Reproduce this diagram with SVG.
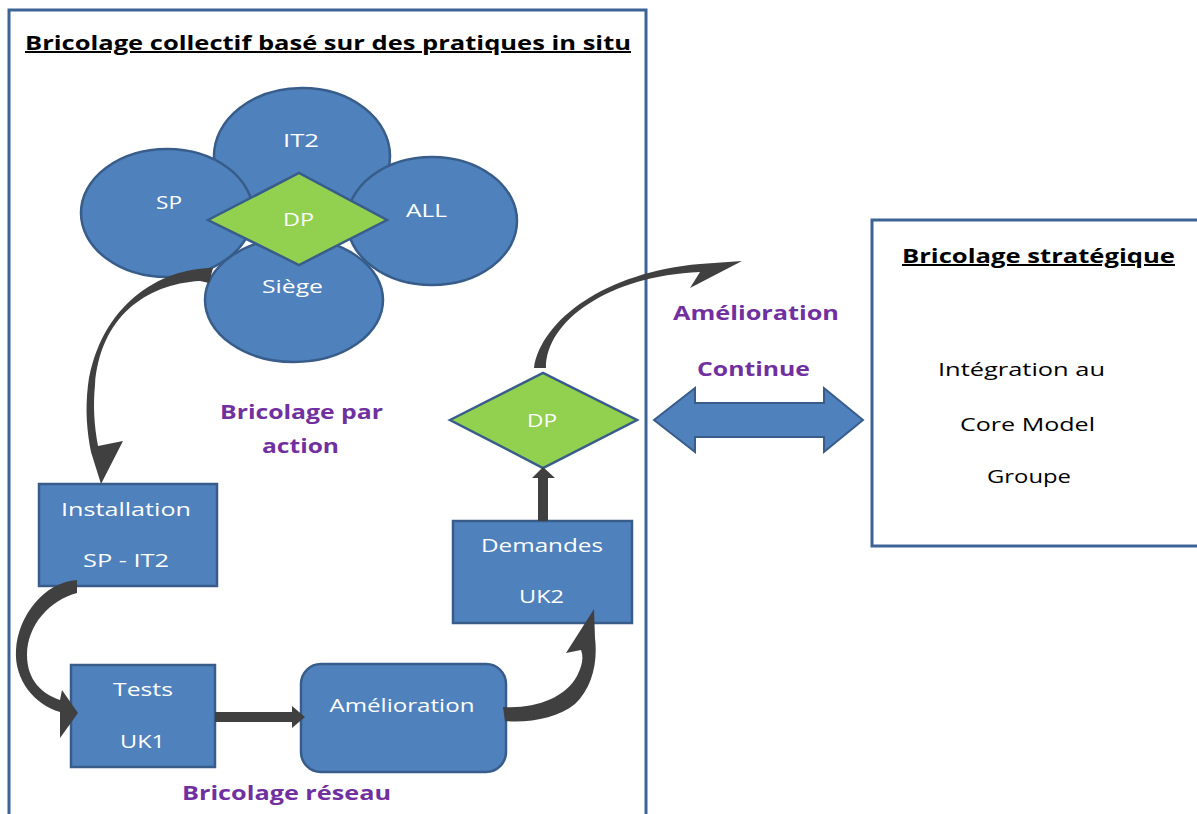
<svg xmlns="http://www.w3.org/2000/svg" width="1197" height="814" viewBox="0 0 1197 814">
<style>
.frame{fill:#fff;stroke:#3e6497;stroke-width:3}
.node{fill:#4f81bd;stroke:#385d8a;stroke-width:2.5}
.dia{fill:#92d050;stroke:#385d8a;stroke-width:2.5}
.conn{fill:#404040;stroke:none}
.dbl{fill:#4f81bd;stroke:#385d8a;stroke-width:2}
text{font-family:"Open Sans","Liberation Sans",sans-serif;text-anchor:middle}
.w{fill:#fff;font-size:19px}
.k{fill:#000;font-size:19px}
.p{fill:#7030a0;font-size:20px;font-weight:bold}
.t{fill:#000;font-size:20px;font-weight:bold;text-decoration:underline}
</style>
<rect width="1197" height="814" fill="#fff"/>
<g id="frame-left">
<rect class="frame" x="9" y="10" width="637" height="830"/>
<text class="t" x="328" y="50" textLength="606" lengthAdjust="spacingAndGlyphs">Bricolage collectif basé sur des pratiques in situ</text>
</g>
<g id="frame-right">
<rect class="frame" x="872" y="220" width="340" height="326"/>
<text class="t" x="1038.5" y="263" textLength="273" lengthAdjust="spacingAndGlyphs">Bricolage stratégique</text>
<text class="k" x="1021.5" y="376" textLength="167" lengthAdjust="spacingAndGlyphs">Intégration au</text>
<text class="k" x="1027.5" y="431" textLength="135" lengthAdjust="spacingAndGlyphs">Core Model</text>
<text class="k" x="1029" y="483" textLength="84" lengthAdjust="spacingAndGlyphs">Groupe</text>
</g>
<g id="flower">
<g id="it2"><ellipse class="node" cx="302" cy="156" rx="88" ry="68"/><text class="w" x="301" y="147" textLength="36" lengthAdjust="spacingAndGlyphs">IT2</text></g>
<g id="sp"><ellipse class="node" cx="167" cy="213" rx="86" ry="64"/><text class="w" x="169" y="209" textLength="26" lengthAdjust="spacingAndGlyphs">SP</text></g>
<g id="all"><ellipse class="node" cx="432" cy="221" rx="85" ry="64"/><text class="w" x="426.5" y="217" textLength="41" lengthAdjust="spacingAndGlyphs">ALL</text></g>
<g id="siege"><ellipse class="node" cx="294" cy="300" rx="89" ry="62"/><text class="w" x="292.5" y="293" textLength="61" lengthAdjust="spacingAndGlyphs">Siège</text></g>
<g id="dp1"><polygon class="dia" points="208,220 299,173 387,220 299,265"/><text class="w" x="298.5" y="226" textLength="31" lengthAdjust="spacingAndGlyphs">DP</text></g>
</g>
<g id="installation"><rect class="node" x="39" y="484" width="178" height="102"/>
<text class="w" x="126" y="516" textLength="130" lengthAdjust="spacingAndGlyphs">Installation</text>
<text class="w" x="126" y="567" textLength="86" lengthAdjust="spacingAndGlyphs">SP - IT2</text></g>
<g id="tests"><rect class="node" x="71" y="665" width="144" height="102"/>
<text class="w" x="143" y="696" textLength="60" lengthAdjust="spacingAndGlyphs">Tests</text>
<text class="w" x="142.5" y="748" textLength="45" lengthAdjust="spacingAndGlyphs">UK1</text></g>
<g id="amelioration"><rect class="node" x="301" y="664" width="205" height="108" rx="20"/>
<text class="w" x="402" y="712" textLength="145" lengthAdjust="spacingAndGlyphs">Amélioration</text></g>
<g id="demandes"><rect class="node" x="453" y="521" width="179" height="102"/>
<text class="w" x="542" y="552" textLength="122" lengthAdjust="spacingAndGlyphs">Demandes</text>
<text class="w" x="541.5" y="603" textLength="45" lengthAdjust="spacingAndGlyphs">UK2</text></g>
<g id="dp2"><polygon class="dia" points="450,420 543,373 637,420 543,468"/>
<text class="w" x="542" y="427" textLength="30" lengthAdjust="spacingAndGlyphs">DP</text></g>
<g id="labels">
<text class="p" x="301.5" y="419" textLength="163" lengthAdjust="spacingAndGlyphs">Bricolage par</text>
<text class="p" x="300.5" y="453" textLength="77" lengthAdjust="spacingAndGlyphs">action</text>
<text class="p" x="286.5" y="800" textLength="209" lengthAdjust="spacingAndGlyphs">Bricolage réseau</text>
<text class="p" x="756" y="320" textLength="166" lengthAdjust="spacingAndGlyphs">Amélioration</text>
<text class="p" x="753.5" y="376" textLength="113" lengthAdjust="spacingAndGlyphs">Continue</text>
</g>
<g id="connectors">
<path class="conn" d="M213,268 C160,268 100,305 88,385 C85,410 87,432 91,452 L101,484 L123,441 L98,446 C94,425 93,405 95,385 C100,318 145,284 200,281 L209,283 Z"/>
<path class="conn" d="M77,580 C45,582 18,615 16,650 C14,680 35,705 60,712 L60,738 L78,713 L62,690 L60,700 C42,694 27,680 27,655 C27,625 50,600 77,593 Z"/>
<path class="conn" d="M215,712 L292,712 L292,706 L305,717 L292,728 L292,722 L215,722 Z"/>
<path class="conn" d="M503,707 C535,709 565,698 577,676 C582,666 584,658 581,650 L566,653 L594,609 L595,638 C598,662 592,688 575,704 C558,718 530,723 505,721 Z"/>
<path class="conn" d="M538,521 L538,478 L532,478 L543,467 L555,478 L548,478 L548,521 Z"/>
<path class="conn" d="M534,368 C541,320 606,272 700,264 L742,261 L690,288 L700,272 C608,276 546,321 546,368 Z"/>
<polygon class="dbl" points="654,420 695,388 695,403 824,403 824,388 863,420 824,452 824,437 695,437 695,452"/>
</g>
</svg>
